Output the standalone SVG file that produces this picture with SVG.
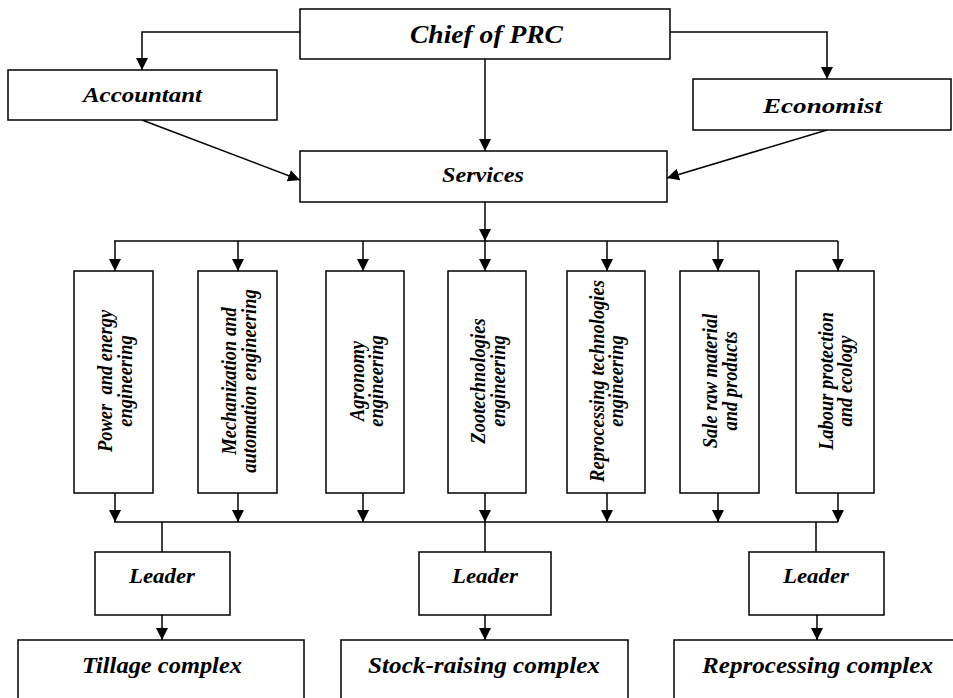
<svg xmlns="http://www.w3.org/2000/svg" width="953" height="698" viewBox="0 0 953 698">
<defs>
<style>
.box{fill:#fff;stroke:#000;stroke-width:1.5}
.ln{fill:none;stroke:#000;stroke-width:1.5}
.t{font-family:'Liberation Serif',serif;font-weight:bold;font-style:italic;fill:#000;text-anchor:middle}
.v{font-family:'Liberation Serif',serif;font-weight:bold;font-style:italic;fill:#000;text-anchor:middle;font-size:18.5px}
</style>
<marker id="ah" viewBox="0 0 12 12" refX="12" refY="6" markerWidth="12" markerHeight="12" markerUnits="userSpaceOnUse" orient="auto">
<path d="M0,0 L12,6 L0,12 z" fill="#000"/>
</marker>
</defs>
<rect width="953" height="698" fill="#fff"/>

<g id="connectors">
<path class="ln" d="M300,32 H142 V70" marker-end="url(#ah)"/>
<path class="ln" d="M670,32 H827 V79" marker-end="url(#ah)"/>
<path class="ln" d="M485,59 V151" marker-end="url(#ah)"/>
<path class="ln" d="M142,120 L300,180" marker-end="url(#ah)"/>
<path class="ln" d="M827,130 L667,178" marker-end="url(#ah)"/>
<path class="ln" d="M485,202 V241" marker-end="url(#ah)"/>
<path class="ln" d="M114,241 H838"/>
<path class="ln" d="M115,241 V271" marker-end="url(#ah)"/>
<path class="ln" d="M238,241 V271" marker-end="url(#ah)"/>
<path class="ln" d="M363,241 V271" marker-end="url(#ah)"/>
<path class="ln" d="M485,241 V271" marker-end="url(#ah)"/>
<path class="ln" d="M607,241 V271" marker-end="url(#ah)"/>
<path class="ln" d="M718,241 V271" marker-end="url(#ah)"/>
<path class="ln" d="M838,241 V271" marker-end="url(#ah)"/>
<path class="ln" d="M115,493 V522" marker-end="url(#ah)"/>
<path class="ln" d="M238,493 V522" marker-end="url(#ah)"/>
<path class="ln" d="M363,493 V522" marker-end="url(#ah)"/>
<path class="ln" d="M485,493 V522" marker-end="url(#ah)"/>
<path class="ln" d="M607,493 V522" marker-end="url(#ah)"/>
<path class="ln" d="M718,493 V522" marker-end="url(#ah)"/>
<path class="ln" d="M838,493 V522" marker-end="url(#ah)"/>
<path class="ln" d="M114,522 H838"/>
<path class="ln" d="M162,522 V552"/>
<path class="ln" d="M485,522 V552"/>
<path class="ln" d="M816,522 V552"/>
<path class="ln" d="M162,615 V640" marker-end="url(#ah)"/>
<path class="ln" d="M485,615 V640" marker-end="url(#ah)"/>
<path class="ln" d="M817,615 V640" marker-end="url(#ah)"/>
</g>

<g id="chief">
<rect class="box" x="300" y="9" width="370" height="50"/>
<text class="t" x="486.5" y="43" font-size="25" textLength="153" lengthAdjust="spacingAndGlyphs">Chief of PRC</text>
</g>
<g id="accountant">
<rect class="box" x="8" y="70" width="269" height="50"/>
<text class="t" x="142.5" y="101.5" font-size="22" textLength="119" lengthAdjust="spacingAndGlyphs">Accountant</text>
</g>
<g id="economist">
<rect class="box" x="693" y="79" width="258" height="51"/>
<text class="t" x="822.5" y="113.3" font-size="22" textLength="119" lengthAdjust="spacingAndGlyphs">Economist</text>
</g>
<g id="services">
<rect class="box" x="300" y="151" width="367" height="51"/>
<text class="t" x="483" y="182.3" font-size="21" textLength="82" lengthAdjust="spacingAndGlyphs">Services</text>
</g>

<g id="power">
<rect class="box" x="74" y="271" width="79" height="222"/>
<text class="v" transform="translate(112,381) scale(1.15,1) rotate(-90)" xml:space="preserve">Power  and energy</text>
<text class="v" transform="translate(131.5,381) scale(1.15,1) rotate(-90)">engineering</text>
</g>
<g id="mechanization">
<rect class="box" x="198" y="271" width="79" height="222"/>
<text class="v" transform="translate(236,381) scale(1.15,1) rotate(-90)">Mechanization and</text>
<text class="v" transform="translate(255.5,381) scale(1.15,1) rotate(-90)">automation engineering</text>
</g>
<g id="agronomy">
<rect class="box" x="326" y="271" width="78" height="222"/>
<text class="v" transform="translate(363.5,381) scale(1.15,1) rotate(-90)">Agronomy</text>
<text class="v" transform="translate(383,381) scale(1.15,1) rotate(-90)">engineering</text>
</g>
<g id="zootech">
<rect class="box" x="448" y="271" width="78" height="222"/>
<text class="v" transform="translate(485,381) scale(1.15,1) rotate(-90)">Zootechnologies</text>
<text class="v" transform="translate(504.5,381) scale(1.15,1) rotate(-90)">engineering</text>
</g>
<g id="reprocessing-tech">
<rect class="box" x="567" y="271" width="78" height="222"/>
<text class="v" transform="translate(603.5,381) scale(1.15,1) rotate(-90)">Reprocessing technologies</text>
<text class="v" transform="translate(623,381) scale(1.15,1) rotate(-90)">engineering</text>
</g>
<g id="sale">
<rect class="box" x="680" y="271" width="79" height="222"/>
<text class="v" transform="translate(717,381) scale(1.15,1) rotate(-90)">Sale raw material</text>
<text class="v" transform="translate(736.5,381) scale(1.15,1) rotate(-90)">and products</text>
</g>
<g id="labour">
<rect class="box" x="796" y="271" width="78" height="222"/>
<text class="v" transform="translate(832.5,381) scale(1.15,1) rotate(-90)">Labour protection</text>
<text class="v" transform="translate(852,381) scale(1.15,1) rotate(-90)">and ecology</text>
</g>

<g id="leader1">
<rect class="box" x="95" y="552" width="135" height="63"/>
<text class="t" x="162" y="583" font-size="20" textLength="66" lengthAdjust="spacingAndGlyphs">Leader</text>
</g>
<g id="leader2">
<rect class="box" x="419" y="552" width="132" height="63"/>
<text class="t" x="485" y="583" font-size="20" textLength="66" lengthAdjust="spacingAndGlyphs">Leader</text>
</g>
<g id="leader3">
<rect class="box" x="749" y="552" width="135" height="63"/>
<text class="t" x="816" y="583" font-size="20" textLength="66" lengthAdjust="spacingAndGlyphs">Leader</text>
</g>

<g id="tillage">
<rect class="box" x="18" y="640" width="286" height="80"/>
<text class="t" x="162" y="673" font-size="23" textLength="160" lengthAdjust="spacingAndGlyphs">Tillage complex</text>
</g>
<g id="stock">
<rect class="box" x="341" y="640" width="287" height="80"/>
<text class="t" x="484" y="673" font-size="23" textLength="232" lengthAdjust="spacingAndGlyphs">Stock-raising complex</text>
</g>
<g id="reprocessing">
<rect class="box" x="674" y="640" width="300" height="80"/>
<text class="t" x="817.5" y="673" font-size="23" textLength="231" lengthAdjust="spacingAndGlyphs">Reprocessing complex</text>
</g>
</svg>
